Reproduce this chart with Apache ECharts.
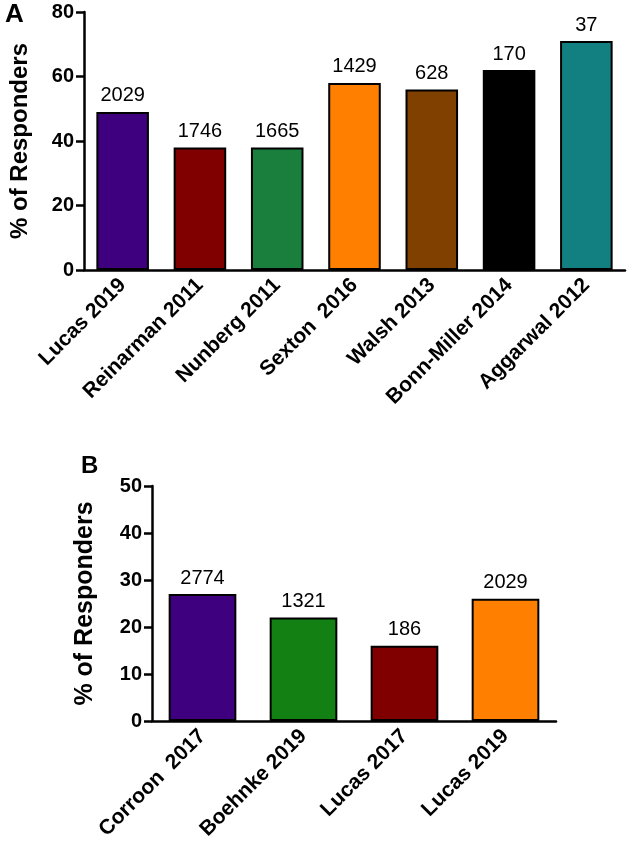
<!DOCTYPE html>
<html>
<head>
<meta charset="utf-8">
<script src="https://cdn.jsdelivr.net/npm/echarts@6/dist/echarts.min.js"></script>
<style>
  html, body { margin: 0; padding: 0; background: #fff; }
  #main { width: 633px; height: 846px; }
</style>
</head>
<body>
<div id="main"></div>
<script>
// panel A
var studiesA = ['Lucas 2019', 'Reinarman 2011', 'Nunberg 2011', 'Sexton  2016', 'Walsh 2013', 'Bonn-Miller 2014', 'Aggarwal 2012'];
var percentA = [49, 38, 38, 58, 56, 62, 71];
var sampleA = [2029, 1746, 1665, 1429, 628, 170, 37];
var colorsA = ['#3f0080', '#800000', '#1a7f3d', '#ff8000', '#804000', '#000000', '#128080'];

// panel B
var studiesB = ['Corroon  2017', 'Boehnke 2019', 'Lucas 2017', 'Lucas 2019'];
var percentB = [27, 22, 16, 26];
var sampleB = [2774, 1321, 186, 2029];
var colorsB = ['#3f0080', '#138013', '#800000', '#ff8000'];

var font = 'Liberation Sans, Arial, sans-serif';

var chartDom = document.getElementById('main');
var myChart = echarts.init(chartDom);
var option;

function yAxisFor(gridIndex, max, interval, gap, nameSize) {
    return {
        type: 'value',
        gridIndex: gridIndex,
        min: 0,
        max: max,
        interval: interval,
        name: '% of Responders',
        nameLocation: 'middle',
        nameGap: gap,
        nameTextStyle: {color: '#000', fontSize: nameSize, fontWeight: 'bold', fontFamily: font},
        axisLine: {show: true, lineStyle: {color: '#000', width: 2.5}},
        axisTick: {show: true, length: 8, lineStyle: {color: '#000', width: 2.5}},
        axisLabel: {color: '#000', fontSize: 20, fontWeight: 'bold', fontFamily: font, margin: 10},
        splitLine: {show: false}
    };
}

function xAxisFor(gridIndex, cats) {
    return {
        type: 'category',
        gridIndex: gridIndex,
        data: cats,
        axisLine: {show: true, lineStyle: {color: '#000', width: 2.5}},
        axisTick: {show: false},
        axisLabel: {color: '#000', fontSize: 21, fontWeight: 'bold', fontFamily: font, rotate: 45, margin: 12, interval: 0}
    };
}

function barSeries(idx, values, samples, colors, gap) {
    return {
        type: 'bar',
        xAxisIndex: idx,
        yAxisIndex: idx,
        barCategoryGap: gap,
        data: values.map(function (v, i) {
            return {value: v, itemStyle: {color: colors[i]}};
        }),
        itemStyle: {borderColor: '#000', borderWidth: 2},
        label: {
            show: true,
            position: 'top',
            distance: 6,
            color: '#000',
            fontSize: 20,
            fontFamily: font,
            formatter: function (p) { return samples[p.dataIndex]; }
        },
        emphasis: {disabled: true}
    };
}

option = {
    animation: false,
    grid: [
        {left: 79, top: 12, width: 546, height: 258},
        {left: 152, top: 486, width: 404, height: 235}
    ],
    xAxis: [xAxisFor(0, studiesA), xAxisFor(1, studiesB)],
    yAxis: [yAxisFor(0, 80, 20, 52, 24), yAxisFor(1, 50, 10, 54, 25)],
    series: [
        barSeries(0, percentA, sampleA, colorsA, '32%'),
        barSeries(1, percentB, sampleB, colorsB, '33%')
    ],
    graphic: [
        {type: 'text', left: 5, top: 2, style: {text: 'A', fontSize: 26, fontWeight: 'bold', fontFamily: font, fill: '#000'}},
        {type: 'text', left: 81, top: 454, style: {text: 'B', fontSize: 24, fontWeight: 'bold', fontFamily: font, fill: '#000'}}
    ]
};

option && myChart.setOption(option);
</script>
</body>
</html>
